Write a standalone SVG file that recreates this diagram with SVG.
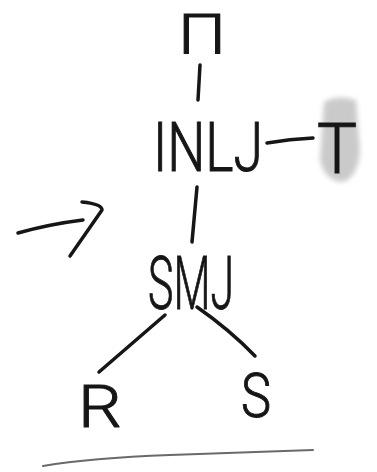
<svg xmlns="http://www.w3.org/2000/svg" width="377" height="472" viewBox="0 0 377 472">
  <style>
    .lbl { font-family: Roboto, "Liberation Sans", "DejaVu Sans", sans-serif; font-weight: 300; fill: #161616; stroke: #161616; stroke-width: 1; text-anchor: middle; }
    .ink { fill: none; stroke: #161616; stroke-width: 3.5; stroke-linecap: round; stroke-linejoin: round; }
  </style>
  <defs>
    <filter id="smudge" x="-50%" y="-50%" width="200%" height="200%">
      <feGaussianBlur stdDeviation="2.5"/>
    </filter>
  </defs>
  <rect width="377" height="472" fill="#ffffff"/>

  <!-- operator nodes -->
  <g id="proj">
    <text class="lbl" x="202" y="54" font-size="56" textLength="48" lengthAdjust="spacingAndGlyphs">Π</text>
  </g>
  <g id="inlj">
    <text class="lbl" x="208" y="171" font-size="68" textLength="110" lengthAdjust="spacingAndGlyphs">INLJ</text>
  </g>
  <g id="t">
    <path d="M324 102 Q338 94 356 100 L360 150 Q358 178 342 182 Q324 180 320 160 Z" fill="#a8a8a8" opacity="0.6" filter="url(#smudge)"/>
    <text class="lbl" x="337" y="173" font-size="70" textLength="40" lengthAdjust="spacingAndGlyphs">T</text>
  </g>
  <g id="smj">
    <text class="lbl" x="191" y="309" font-size="74" textLength="86" lengthAdjust="spacingAndGlyphs">SMJ</text>
  </g>
  <g id="r">
    <text class="lbl" x="100" y="427" font-size="60" textLength="44" lengthAdjust="spacingAndGlyphs">R</text>
  </g>
  <g id="s">
    <text class="lbl" x="256" y="417" font-size="62" textLength="30" lengthAdjust="spacingAndGlyphs">S</text>
  </g>

  <!-- tree edges -->
  <g id="connectors">
    <path class="ink" d="M200 65 L198 100"/>
    <path class="ink" d="M267 143 Q290 139 313 138"/>
    <path class="ink" d="M197 187 L192 242"/>
    <path class="ink" d="M165 315 L99 372"/>
    <path class="ink" d="M197 307 Q230 330 255 356"/>
  </g>

  <!-- pointer arrow on the left -->
  <g id="pointer">
    <path class="ink" d="M18 233 Q50 224 83 220"/>
    <path class="ink" d="M82 202 Q102 204 102 210 L70 256"/>
  </g>

  <!-- underline at the bottom -->
  <path d="M43 466 Q90 458 170 455 Q250 452 313 450" fill="none" stroke="#6a6a6a" stroke-width="2" stroke-linecap="round"/>
</svg>
